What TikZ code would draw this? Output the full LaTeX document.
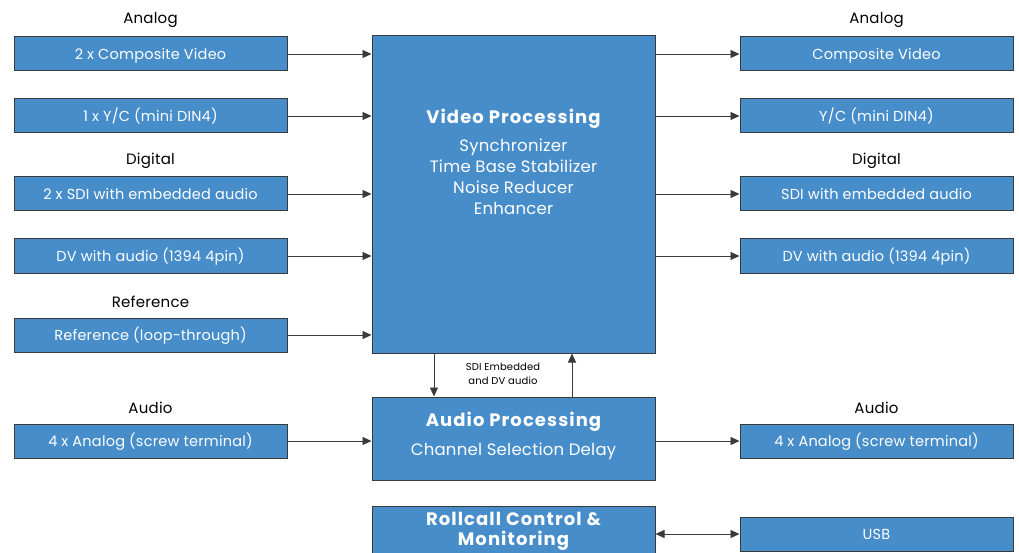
\documentclass[tikz,border=0pt]{standalone}
\usepackage{fontspec}
\setmainfont{Poppins}[LetterSpace=1.5]
\usepackage{xcolor}
\usepackage{tikz}
\usetikzlibrary{arrows.meta}
\usetikzlibrary{positioning}
\definecolor{boxblue}{HTML}{478DCA}
\definecolor{edgegray}{HTML}{3A3A3A}
\tikzset{
    port/.style={draw=edgegray, line width=1pt, fill=boxblue, text=white,
        minimum width=273pt, minimum height=34pt, inner sep=0pt,
        text height=10.5pt, text depth=0pt,
        font=\fontsize{14.5}{16}\selectfont},
    block/.style={draw=edgegray, line width=1pt, fill=boxblue, inner sep=0pt},
    blocktext/.style={text=white, align=center, inner sep=0pt,
        font=\fontsize{16.5}{21}\selectfont},
    head/.style={inner sep=0pt, font=\fontsize{15}{17}\selectfont},
    link/.style={draw=edgegray, line width=0.9pt, -{Triangle[length=9pt,width=8pt]}},
    duplex/.style={draw=edgegray, line width=0.9pt,
        {Triangle[length=9pt,width=8pt]}-{Triangle[length=9pt,width=8pt]}},
}
\newcommand{\blocktitle}[1]{{\fontsize{18}{21}\selectfont\bfseries\addfontfeatures{LetterSpace=6}#1}}

\begin{document}
\begin{tikzpicture}[x=1pt, y=-1pt]
	\useasboundingbox (0,0) rectangle (1019,553);
	\clip (0,0) rectangle (1019,553);
	% processing blocks
	\node[block, minimum width=283pt, minimum height=317pt] (vp) at (513.5,194.5) {};
	\node[blocktext] (vptext) at (513.5,162) {\blocktitle{Video Processing}\\[7pt]Synchronizer\\Time Base Stabilizer\\Noise Reducer\\Enhancer};
	\node[block, minimum width=283pt, minimum height=83pt] (ap) at (513.5,438.5) {};
	\node[blocktext, font=\fontsize{16.5}{29}\selectfont] (aptext) at (513.5,435.5) {\blocktitle{Audio Processing}\\Channel Selection Delay};
	\node[block, minimum width=283pt, minimum height=56pt] (rc) at (513.5,534) {};
	\node[blocktext, font=\fontsize{18}{20}\selectfont\bfseries\addfontfeatures{LetterSpace=6}] (rctext) at (513.5,531) {Rollcall Control \&\\Monitoring};
	% inputs
	\node[head] at (150.5,20) {Analog};
	\node[port] (in1) at (150.5,54) {2 x Composite Video};
	\node[port] (in2) at (150.5,116) {1 x Y/C (mini DIN4)};
	\node[head] at (150.5,161) {Digital};
	\node[port] (in3) at (150.5,194) {2 x SDI with embedded audio};
	\node[port] (in4) at (150.5,256) {DV with audio (1394 4pin)};
	\node[head] at (150.5,302) {Reference};
	\node[port] (in5) at (150.5,335) {Reference (loop-through)};
	\node[head] at (150.5,408) {Audio};
	\node[port] (in6) at (150.5,441) {4 x Analog (screw terminal)};
	% outputs
	\node[head] at (876.5,20) {Analog};
	\node[port] (out1) at (876.5,54) {Composite Video};
	\node[port] (out2) at (876.5,116) {Y/C (mini DIN4)};
	\node[head] at (876.5,161) {Digital};
	\node[port] (out3) at (876.5,194) {SDI with embedded audio};
	\node[port] (out4) at (876.5,256) {DV with audio (1394 4pin)};
	\node[head] at (876.5,408) {Audio};
	\node[port] (out6) at (876.5,441) {4 x Analog (screw terminal)};
	\node[port] (usb) at (876.5,534) {USB};
	% connections
	\foreach \n in {in1,in2,in3,in4,in5}
		\draw[link] (\n.east) -- (\n.east -| vp.west);
	\foreach \n in {out1,out2,out3,out4}
		\draw[link] (\n.west -| vp.east) -- (\n.west);
	\draw[link] (in6.east) -- (in6.east -| ap.west);
	\draw[link] (out6.west -| ap.east) -- (out6.west);
	\draw[duplex] (rc.east) -- (usb.west);
	\draw[link] ([xshift=-79.5pt]vp.south) -- ([xshift=-79.5pt]vp.south |- ap.north);
	\draw[link] ([xshift=58.5pt]ap.north) -- ([xshift=58.5pt]ap.north |- vp.south);
	\node[align=center, inner sep=0pt, font=\fontsize{10}{14}\selectfont] (sdi) at (503,374) {SDI Embedded\\and DV audio};
\end{tikzpicture}
\end{document}
